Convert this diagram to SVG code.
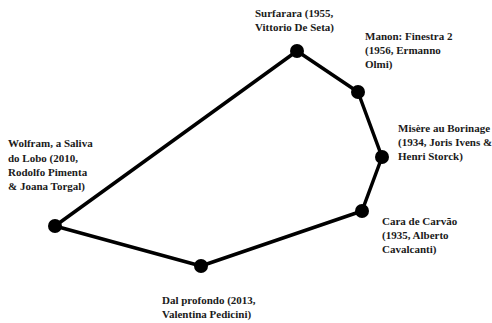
<svg xmlns="http://www.w3.org/2000/svg" width="492" height="323" viewBox="0 0 492 323">
  <style>
    .edge { stroke: #000; stroke-width: 3.5; fill: none; stroke-linecap: round; }
    .dot { fill: #000; }
    .lbl { font-family: "Liberation Serif", "Times New Roman", serif; font-weight: bold; font-size: 11px; fill: #1a1a1a; }
  </style>
  <rect width="492" height="323" fill="#fff"/>
  <g id="connectors">
    <line class="edge" x1="55" y1="226" x2="297" y2="51"/>
    <line class="edge" x1="297" y1="51" x2="358" y2="92"/>
    <line class="edge" x1="358" y1="92" x2="382" y2="157"/>
    <line class="edge" x1="382" y1="157" x2="362" y2="211"/>
    <line class="edge" x1="362" y1="211" x2="201" y2="266"/>
    <line class="edge" x1="201" y1="266" x2="55" y2="226"/>
  </g>
  <g id="surfarara">
    <circle class="dot" cx="297" cy="51" r="7"/>
    <text class="lbl" x="255" y="17">Surfarara (1955,</text>
    <text class="lbl" x="255" y="31">Vittorio De Seta)</text>
  </g>
  <g id="manon">
    <circle class="dot" cx="358" cy="92" r="7"/>
    <text class="lbl" x="365" y="40">Manon: Finestra 2</text>
    <text class="lbl" x="365" y="54">(1956, Ermanno</text>
    <text class="lbl" x="365" y="68">Olmi)</text>
  </g>
  <g id="misere">
    <circle class="dot" cx="382" cy="157" r="7"/>
    <text class="lbl" x="398" y="132">Misère au Borinage</text>
    <text class="lbl" x="398" y="146">(1934, Joris Ivens &amp;</text>
    <text class="lbl" x="398" y="160">Henri Storck)</text>
  </g>
  <g id="cara">
    <circle class="dot" cx="362" cy="211" r="7"/>
    <text class="lbl" x="382" y="225">Cara de Carvão</text>
    <text class="lbl" x="382" y="239">(1935, Alberto</text>
    <text class="lbl" x="382" y="253">Cavalcanti)</text>
  </g>
  <g id="dalprofondo">
    <circle class="dot" cx="201" cy="266" r="7"/>
    <text class="lbl" x="162" y="304">Dal profondo (2013,</text>
    <text class="lbl" x="162" y="318">Valentina Pedicini)</text>
  </g>
  <g id="wolfram">
    <circle class="dot" cx="55" cy="226" r="7"/>
    <text class="lbl" x="8" y="147">Wolfram, a Saliva</text>
    <text class="lbl" x="8" y="162">do Lobo (2010,</text>
    <text class="lbl" x="8" y="176">Rodolfo Pimenta</text>
    <text class="lbl" x="8" y="190">&amp; Joana Torgal)</text>
  </g>
</svg>
